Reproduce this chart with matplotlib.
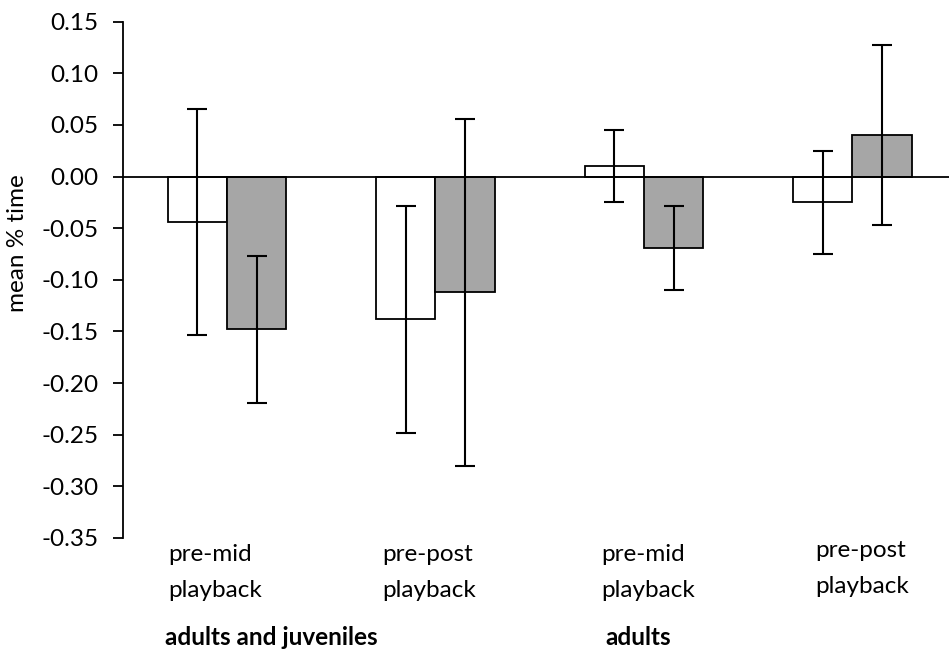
import matplotlib
matplotlib.use("Agg")
import matplotlib.pyplot as plt
import numpy as np

plt.rcParams['font.family'] = ['Lato', 'DejaVu Sans']

# values
groups = ["pre-mid\nplayback", "pre-post\nplayback", "pre-mid\nplayback", "pre-post\nplayback"]
white_means = [-0.044, -0.138, 0.010, -0.025]
white_err = [0.109, 0.110, 0.035, 0.050]
gray_means = [-0.148, -0.112, -0.069, 0.040]
gray_err = [0.071, 0.168, 0.041, 0.087]
group_titles = ["adults and juveniles", "adults"]
yticks = np.round(np.arange(-0.35, 0.151, 0.05), 2)

W, H = 949, 653
fs = 17.5
fig = plt.figure(figsize=(W / 100, H / 100), dpi=100)
ax = fig.add_axes([123.3 / W, 1 - 538 / H, 1 - 123.3 / W, (538 - 21.7) / H])

x = np.arange(len(groups))
bw = 0.285
err_kw = dict(ecolor='black', elinewidth=1.5, capsize=7.5, capthick=1.5)
ax.bar(x - bw / 2, white_means, bw, color='white', edgecolor='black',
       linewidth=1.3, yerr=white_err, error_kw=err_kw, zorder=2)
ax.bar(x + bw / 2, gray_means, bw, color='#a6a6a6', edgecolor='black',
       linewidth=1.3, yerr=gray_err, error_kw=err_kw, zorder=2)
ax.axhline(0, color='black', lw=1.3, zorder=3)

ax.set_xlim(-0.497, 3.463)
ax.set_ylim(-0.35, 0.15)
ax.set_yticks(yticks)
ax.set_yticklabels([f"{v:.2f}".replace("-0.00", "0.00") for v in yticks], fontsize=fs)
ax.tick_params(axis='y', direction='out', length=7, width=1.3, pad=11)
ax.set_xticks([])
for s in ['top', 'right', 'bottom']:
    ax.spines[s].set_visible(False)
ax.spines['left'].set_linewidth(1.3)

def px(xp, yp):
    return xp / W, 1 - yp / H

# category labels placed like separate text boxes
label_pos = [(168, 561, 597), (382, 561, 597), (601, 561, 597), (815, 557, 593)]
for lab, (lx, y1, y2) in zip(groups, label_pos):
    l1, l2 = lab.split("\n")
    fig.text(*px(lx, y1), l1, ha='left', va='baseline', fontsize=fs)
    fig.text(*px(lx, y2), l2, ha='left', va='baseline', fontsize=fs)

fig.text(*px(165, 645), group_titles[0], ha='left', va='baseline',
         fontsize=fs, fontweight='bold')
fig.text(*px(605, 645), group_titles[1], ha='left', va='baseline',
         fontsize=fs, fontweight='bold')

fig.text(*px(18, 243), "mean % time", rotation=90, ha='center', va='center',
         fontsize=fs)

fig.savefig("out.png", dpi=100)
